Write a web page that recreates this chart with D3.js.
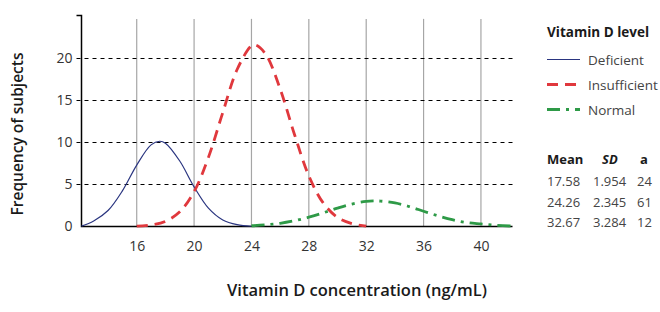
<!DOCTYPE html>
<html>
<head>
<meta charset="utf-8">
<script src="https://cdn.jsdelivr.net/npm/d3@7"></script>
<style>
  body { margin: 0; background: #fff; }
  text { font-family: "Open Sans", "Noto Sans", sans-serif; }
</style>
</head>
<body>
<div id="chart"></div>
<script>
// values
var deficientX = [12.15, 13, 14, 15, 16, 17, 17.6, 18, 19, 20, 21, 22, 23, 24];
var deficientY = [0.05, 0.65, 1.89, 4.22, 7.28, 9.67, 10.1, 9.87, 7.76, 4.7, 2.18, 0.78, 0.22, 0.03];
var insuffX = [16, 17, 18, 19, 20, 21, 22, 23, 24, 24.3, 25, 26, 27, 28, 29, 30, 31, 32];
var insuffY = [0.04, 0.18, 0.61, 1.74, 4.13, 8.19, 13.5, 18.6, 21.4, 21.5, 20.4, 16.3, 10.9, 6.0, 2.79, 1.08, 0.35, 0.05];
var normalX = [24, 25, 26, 27, 28, 29, 30, 31, 32, 32.7, 33, 34, 35, 36, 37, 38, 39, 40, 41, 42.2];
var normalY = [0.09, 0.2, 0.38, 0.68, 1.1, 1.62, 2.18, 2.66, 2.97, 3.03, 3.01, 2.79, 2.36, 1.81, 1.27, 0.81, 0.47, 0.3, 0.15, 0.05];

var xTicks = [16, 20, 24, 28, 32, 36, 40];
var yTicks = [0, 5, 10, 15, 20];
var levelNames = ["Deficient", "Insufficient", "Normal"];
var means = ["17.58", "24.26", "32.67"];
var sds = ["1.954", "2.345", "3.284"];
var aValues = ["24", "61", "12"];

var W = 660, H = 312;

var x = d3.scaleLinear().domain([12.15, 42.2]).range([81.5, 512.5]);
var y = d3.scaleLinear().domain([0, 25]).range([226.5, 15.5]);

var svg = d3.select("#chart").append("svg")
    .attr("width", W).attr("height", H);

// vertical grid lines
svg.append("g").selectAll("line")
    .data(xTicks).enter().append("line")
    .attr("x1", function(d) { return x(d); })
    .attr("x2", function(d) { return x(d); })
    .attr("y1", y(24.6)).attr("y2", y(0))
    .attr("stroke", "#a6a6a6").attr("stroke-width", 1.2);

// horizontal dashed lines
svg.append("g").selectAll("line")
    .data(yTicks.slice(1)).enter().append("line")
    .attr("x1", x.range()[0] - 5).attr("x2", x.range()[1])
    .attr("y1", function(d) { return Math.round(y(d)) + 0.5; })
    .attr("y2", function(d) { return Math.round(y(d)) + 0.5; })
    .attr("stroke", "#000").attr("stroke-width", 1)
    .attr("stroke-dasharray", "4,4");

// axes
var yAxis = d3.axisLeft(y).tickValues([0, 5, 10, 15, 20, 25]).tickSize(0).tickPadding(9)
    .tickFormat(function(d) { return d === 25 ? "" : d; });
var gy = svg.append("g").attr("transform", "translate(" + x.range()[0] + ",0)").call(yAxis);
gy.select(".domain").remove();
gy.selectAll("text").attr("font-size", 14).attr("fill", "#333")
    .style("font-family", "'Open Sans', sans-serif");

var xAxis = d3.axisBottom(x).tickValues(xTicks).tickSize(0).tickPadding(15);
var gx = svg.append("g").attr("transform", "translate(0," + y(0) + ")").call(xAxis);
gx.select(".domain").remove();
gx.selectAll("text").attr("font-size", 14).attr("fill", "#333")
    .style("font-family", "'Open Sans', sans-serif");

svg.append("path")
    .attr("d", "M" + (x.range()[0] - 5) + "," + y(25) + "H" + x.range()[0] + "V" + y(0) + "H" + x.range()[1])
    .attr("fill", "none").attr("stroke", "#000").attr("stroke-width", 1.5);

// curves
var series = [
  { name: levelNames[0], xs: deficientX, ys: deficientY, color: "#2a3580", width: 1.2, dash: null },
  { name: levelNames[1], xs: insuffX, ys: insuffY, color: "#e0383d", width: 2.8, dash: "11,7" },
  { name: levelNames[2], xs: normalX, ys: normalY, color: "#2e9a47", width: 2.8, dash: "13,6,3,6" }
];

var line = d3.line()
    .x(function(d) { return x(d[0]); })
    .y(function(d) { return y(d[1]); })
    .curve(d3.curveCatmullRom);

svg.append("g").selectAll("path")
    .data(series).enter().append("path")
    .attr("d", function(s) { return line(d3.zip(s.xs, s.ys)); })
    .attr("fill", "none")
    .attr("stroke", function(s) { return s.color; })
    .attr("stroke-width", function(s) { return s.width; })
    .attr("stroke-dasharray", function(s) { return s.dash; });

// axis titles
svg.append("text")
    .attr("x", 357).attr("y", 296)
    .attr("text-anchor", "middle")
    .attr("font-size", 16.5).attr("font-weight", 600).attr("fill", "#1a1a1a")
    .text("Vitamin D concentration (ng/mL)");

svg.append("text")
    .attr("transform", "translate(23,134) rotate(-90)")
    .attr("text-anchor", "middle")
    .attr("font-size", 15.5).attr("font-weight", 600).attr("fill", "#1a1a1a")
    .text("Frequency of subjects");

// legend
var lg = svg.append("g").attr("transform", "translate(547,0)");
lg.append("text").attr("x", 0).attr("y", 37)
    .attr("font-size", 13.5).attr("font-weight", 700).attr("fill", "#1a1a1a")
    .text("Vitamin D level");

var items = lg.selectAll("g.item").data(series).enter().append("g")
    .attr("class", "item")
    .attr("transform", function(d, i) { return "translate(0," + (59.5 + i * 25) + ")"; });
items.append("line")
    .attr("x1", 0).attr("x2", 33)
    .attr("stroke", function(s) { return s.color; })
    .attr("stroke-width", function(s) { return s.width; })
    .attr("stroke-dasharray", function(s) { return s.dash; });
items.append("text")
    .attr("x", 41).attr("y", 5)
    .attr("font-size", 13.5).attr("fill", "#444")
    .text(function(s) { return s.name; });

// stats table
var tb = svg.append("g").attr("transform", "translate(547,0)");
tb.append("text").attr("x", 0).attr("y", 163.5).attr("font-size", 13).attr("font-weight", 700)
    .attr("fill", "#1a1a1a").text("Mean");
tb.append("text").attr("x", 55).attr("y", 163.5).attr("font-size", 13).attr("font-weight", 700)
    .attr("font-style", "italic").attr("fill", "#1a1a1a").text("SD");
tb.append("text").attr("x", 93).attr("y", 163.5).attr("font-size", 13).attr("font-weight", 700)
    .attr("fill", "#1a1a1a").text("a");

var rows = tb.selectAll("g.row").data(means).enter().append("g")
    .attr("class", "row")
    .attr("transform", function(d, i) { return "translate(0," + (186 + i * 20.5) + ")"; });
rows.append("text").attr("x", 0).attr("font-size", 13).attr("fill", "#444")
    .text(function(d) { return d; });
rows.append("text").attr("x", 46).attr("font-size", 13).attr("fill", "#444")
    .text(function(d, i) { return sds[i]; });
rows.append("text").attr("x", 90).attr("font-size", 13).attr("fill", "#444")
    .text(function(d, i) { return aValues[i]; });
</script>
</body>
</html>
